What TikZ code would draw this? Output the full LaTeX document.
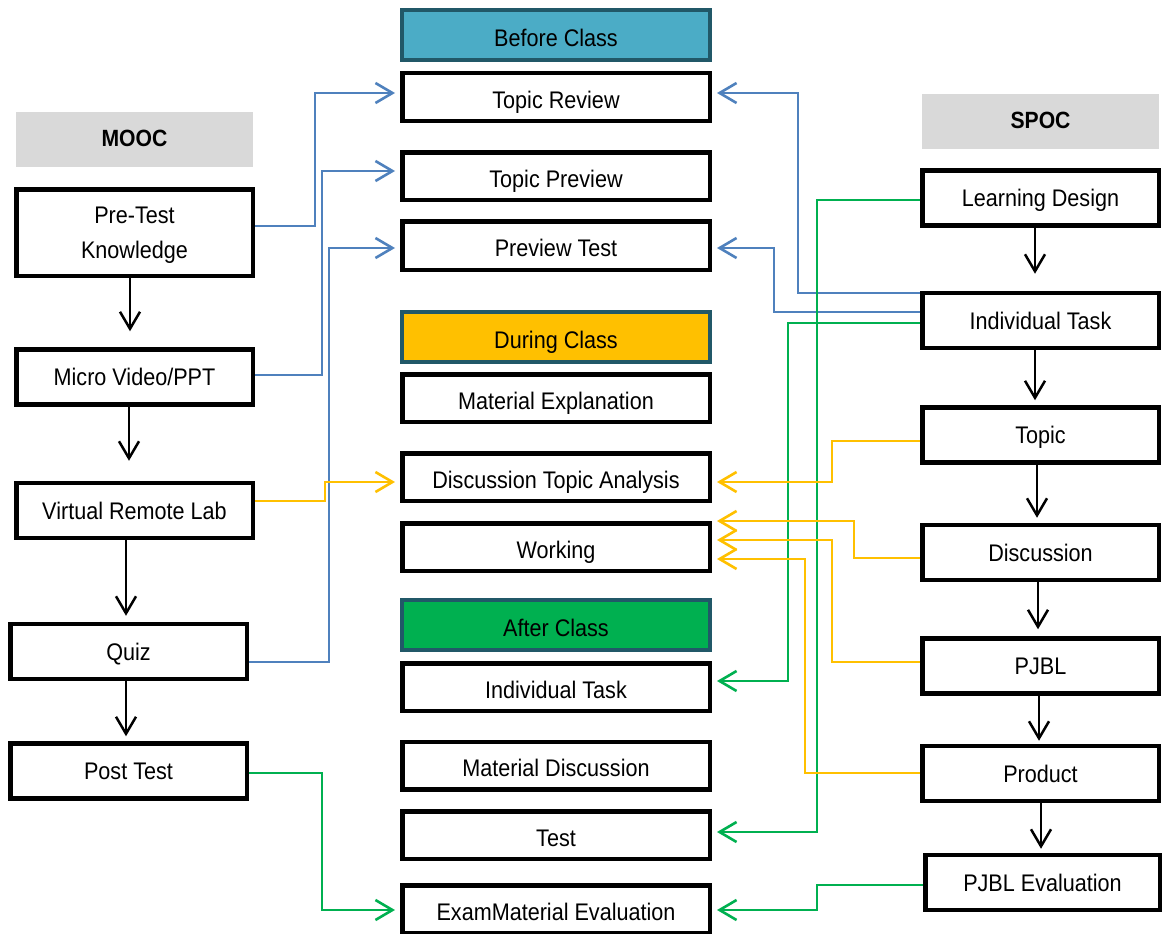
\documentclass[tikz,border=0pt]{standalone}
\usepackage{fontspec}
\setmainfont{Liberation Sans}[FakeStretch=0.9]
\usetikzlibrary{arrows.meta}

\definecolor{hdrgray}{HTML}{D9D9D9}
\definecolor{hdredge}{HTML}{215868}
\definecolor{beforefill}{HTML}{4BACC6}
\definecolor{duringfill}{HTML}{FFC000}
\definecolor{afterfill}{HTML}{00B050}
\definecolor{linkblue}{HTML}{4F81BD}
\definecolor{linkyellow}{HTML}{FFC000}
\definecolor{linkgreen}{HTML}{00B050}

\begin{document}
\begin{tikzpicture}[x=1pt,y=-1pt,
        every node/.style={font=\fontsize{24}{35}\selectfont, inner sep=0pt},
        box/.style={draw, line width=4.5pt, fill=white, minimum width=236.5pt, minimum height=55pt},
        sidebox/.style={box, text height=17pt, text depth=0pt},
        midbox/.style={box, minimum width=307.5pt, minimum height=47.5pt, text height=22pt, text depth=0pt},
        phase/.style={draw=hdredge, line width=4pt, minimum width=308pt, minimum height=50pt, text height=23pt, text depth=0pt},
        side/.style={fill=hdrgray, minimum width=237pt, minimum height=55pt, font=\fontsize{23.5}{26}\selectfont\bfseries, text height=14pt, text depth=0pt},
        flow/.style={line width=2.5pt, -{Straight Barb[length=17pt,width=20pt]}},
        link/.style={line width=2.6pt, -{Straight Barb[length=17pt,width=20pt]}, shorten >=5pt}]
    \useasboundingbox (0,0) rectangle (1162,934);

    % MOOC
    \node[side] (mooc) at (134.5,139.5) {MOOC};
    \node[box, minimum height=86.5pt, align=center, text depth=0pt] (ptk) at (134.5,232.5) {Pre-Test\\Knowledge};
    \node[sidebox] (mvp) at (134.5,377) {Micro Video/PPT};
    \node[sidebox] (vrl) at (134.5,510.5) {Virtual Remote Lab};
    \node[sidebox] (quiz) at (128.5,651.5) {Quiz};
    \node[sidebox] (post) at (128.5,771) {Post Test};

    % class phases
    \node[phase, fill=beforefill] (before) at (556,35) {Before Class};
    \node[midbox] (trev) at (556,97) {Topic Review};
    \node[midbox] (tprev) at (556,176) {Topic Preview};
    \node[midbox, minimum height=48.5pt] (ptest) at (556,245.5) {Preview Test};
    \node[phase, fill=duringfill] (during) at (556,336.5) {During Class};
    \node[midbox] (mexp) at (556,398) {Material Explanation};
    \node[midbox] (dta) at (556,477) {Discussion Topic Analysis};
    \node[midbox] (work) at (556,547) {Working};
    \node[phase, fill=afterfill] (after) at (556,625) {After Class};
    \node[midbox] (itask) at (556,687) {Individual Task};
    \node[midbox] (mdisc) at (556,765.5) {Material Discussion};
    \node[midbox] (test) at (556,835) {Test};
    \node[midbox] (exam) at (556,909) {ExamMaterial Evaluation};

    % SPOC
    \node[side] (spoc) at (1040.5,121) {SPOC};
    \node[sidebox] (ldes) at (1040.5,198) {Learning Design};
    \node[sidebox] (indiv) at (1040.5,320.5) {Individual Task};
    \node[sidebox] (topic) at (1040.5,435) {Topic};
    \node[sidebox] (disc) at (1040.5,552.5) {Discussion};
    \node[sidebox] (pjbl) at (1040.5,666) {PJBL};
    \node[sidebox] (prod) at (1040.5,773.5) {Product};
    \node[sidebox, minimum width=234.5pt] (peval) at (1042.5,882.5) {PJBL Evaluation};

    \draw[flow, shorten >=16pt] ([xshift=-4.5pt]ptk.south) -- ([xshift=-4.5pt]mvp.north);
    \draw[flow, shorten >=20pt] ([xshift=-5.5pt]mvp.south) -- ([xshift=-5.5pt]vrl.north);
    \draw[flow, shorten >=6pt] ([xshift=-8.5pt]vrl.south) -- ([xshift=-2.5pt]quiz.north);
    \draw[flow, shorten >=5pt] ([xshift=-2.5pt]quiz.south) -- ([xshift=-2.5pt]post.north);

    \draw[flow, shorten >=17pt] ([xshift=-5.5pt]ldes.south) -- ([xshift=-5.5pt]indiv.north);
    \draw[flow, shorten >=5pt] ([xshift=-5.5pt]indiv.south) -- ([xshift=-5.5pt]topic.north);
    \draw[flow, shorten >=5pt] ([xshift=-3.5pt]topic.south) -- ([xshift=-3.5pt]disc.north);
    \draw[flow, shorten >=7pt] ([xshift=-2.5pt]disc.south) -- ([xshift=-2.5pt]pjbl.north);
    \draw[flow, shorten >=3pt] ([xshift=-1.5pt]pjbl.south) -- ([xshift=-1.5pt]prod.north);
    \draw[flow, shorten >=4pt] ([xshift=0.5pt]prod.south) -- ([xshift=-1.5pt]peval.north);

    \draw[link, linkblue] (ptk.east |- 0,226) -- (315,226) |- (trev.west |- 0,93);
    \draw[link, linkblue] (mvp.east |- 0,375) -- (322,375) |- (tprev.west |- 0,171);
    \draw[link, linkblue] (quiz.east |- 0,662) -- (329,662) |- (ptest.west |- 0,248);
    \draw[link, linkblue] (indiv.west |- 0,293) -- (798,293) |- (trev.east |- 0,93);
    \draw[link, linkblue] (indiv.west |- 0,312) -- (774,312) |- (ptest.east |- 0,248);

    \draw[link, linkgreen] (ldes.west |- 0,200) -- (817,200) |- (test.east |- 0,832);
    \draw[link, linkgreen] (indiv.west |- 0,323) -- (788,323) |- (itask.east |- 0,681);
    \draw[link, linkgreen] (peval.west |- 0,885) -- (817,885) |- (exam.east |- 0,910);
    \draw[link, linkgreen] (post.east |- 0,773) -- (322,773) |- (exam.west |- 0,910);

    \draw[link, linkyellow] (vrl.east |- 0,501) -- (325,501) |- (dta.west |- 0,482);
    \draw[link, linkyellow] (topic.west |- 0,441) -- (832,441) |- (dta.east |- 0,482);
    \draw[link, linkyellow] (disc.west |- 0,558) -- (854,558) |- (work.east |- 0,521);
    \draw[link, linkyellow] (pjbl.west |- 0,662) -- (832,662) |- (work.east |- 0,540);
    \draw[link, linkyellow] (prod.west |- 0,773) -- (805,773) |- (work.east |- 0,559);
\end{tikzpicture}
\end{document}
